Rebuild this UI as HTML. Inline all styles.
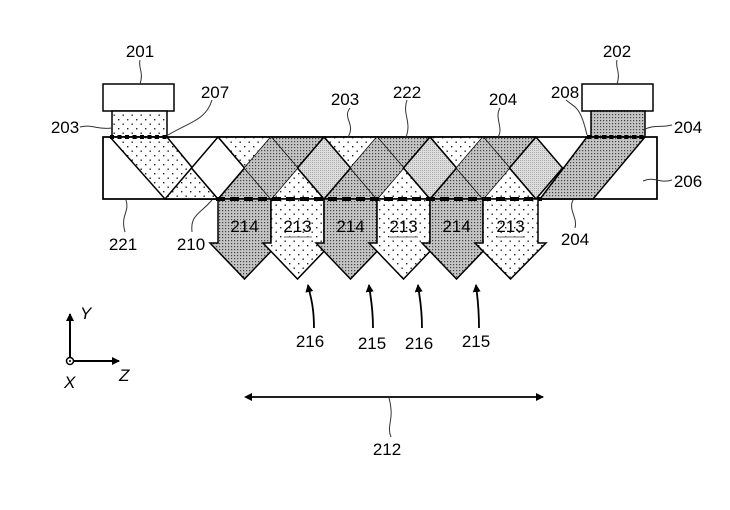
<!DOCTYPE html>
<html><head><meta charset="utf-8"><style>
html,body{margin:0;padding:0;background:#fff;}
svg{display:block;}
text{font-family:"Liberation Sans",sans-serif;font-size:17px;fill:#000;}
</style></head><body>
<svg width="730" height="510" viewBox="0 0 730 510" xmlns="http://www.w3.org/2000/svg">
<defs>
<pattern id="dk" width="3" height="3" patternUnits="userSpaceOnUse"><rect width="3" height="3" fill="#c4c4c4"/><rect x="0" y="0" width="1.2" height="1.2" fill="#444"/></pattern>
<pattern id="lt" width="9" height="9" patternUnits="userSpaceOnUse"><rect width="9" height="9" fill="#fff"/><rect x="1" y="2" width="1.4" height="1.4" fill="#222"/><rect x="5.5" y="6.5" width="1.4" height="1.4" fill="#222"/></pattern>
<pattern id="gr" width="2" height="2" patternUnits="userSpaceOnUse"><rect width="2" height="2" fill="#dedede"/><rect width="1" height="1" fill="#aaa"/></pattern>
<marker id="ah" markerWidth="8" markerHeight="8" refX="7" refY="4" orient="auto" markerUnits="userSpaceOnUse"><path d="M0,0 L8,4 L0,8z" fill="#000"/></marker>
<marker id="ahs" markerWidth="8" markerHeight="8" refX="6" refY="4" orient="auto-start-reverse" markerUnits="userSpaceOnUse"><path d="M0,0 L8,4 L0,8z" fill="#000"/></marker>
</defs>

<rect x="103" y="84" width="71" height="27" fill="#fff" stroke="#000" stroke-width="1.5"/>
<rect x="112" y="111" width="55" height="26" fill="url(#lt)" stroke="#000" stroke-width="1.5"/>
<rect x="582" y="84" width="71" height="27" fill="#fff" stroke="#000" stroke-width="1.5"/>
<rect x="591" y="111" width="54" height="26" fill="url(#dk)" stroke="#000" stroke-width="1.5"/>

<rect x="103" y="137" width="554" height="62" fill="#fff" stroke="#000" stroke-width="1.5"/>
<g stroke="#000" stroke-width="1.5" stroke-linejoin="round">
<polygon points="110,137 167,137 218,199 165,199" fill="url(#lt)"/>
<polygon points="218,137 271,137 244.5,168" fill="url(#lt)"/>
<polygon points="271,137 324,137 297.5,168" fill="url(#dk)"/>
<polygon points="324,137 377,137 350.5,168" fill="url(#lt)"/>
<polygon points="377,137 430,137 403.5,168" fill="url(#dk)"/>
<polygon points="430,137 483,137 456.5,168" fill="url(#lt)"/>
<polygon points="483,137 536,137 509.5,168" fill="url(#dk)"/>
<polygon points="165,199 218,199 191.5,168" fill="url(#lt)"/>
<polygon points="218,199 271,199 244.5,168" fill="url(#dk)"/>
<polygon points="271,199 324,199 297.5,168" fill="url(#lt)"/>
<polygon points="324,199 377,199 350.5,168" fill="url(#dk)"/>
<polygon points="377,199 430,199 403.5,168" fill="url(#lt)"/>
<polygon points="430,199 483,199 456.5,168" fill="url(#dk)"/>
<polygon points="483,199 536,199 509.5,168" fill="url(#lt)"/>
<polygon points="218,137 244.5,168 218,199 191.5,168" fill="#fff"/>
<polygon points="271,137 297.5,168 271,199 244.5,168" fill="url(#dk)" stroke="none"/>
<polygon points="324,137 350.5,168 324,199 297.5,168" fill="url(#gr)"/>
<polygon points="377,137 403.5,168 377,199 350.5,168" fill="url(#dk)" stroke="none"/>
<polygon points="430,137 456.5,168 430,199 403.5,168" fill="url(#gr)"/>
<polygon points="483,137 509.5,168 483,199 456.5,168" fill="url(#dk)" stroke="none"/>
<polygon points="536,137 562.5,168 536,199 509.5,168" fill="url(#gr)"/>
<polygon points="587,137 645,137 593,199 540,199" fill="url(#dk)"/>
</g>
<rect x="103" y="137" width="554" height="62" fill="none" stroke="#000" stroke-width="1.5"/>

<line x1="110" y1="137" x2="167" y2="137" stroke="#000" stroke-width="4" stroke-dasharray="4,3.5"/>
<line x1="587" y1="137" x2="645" y2="137" stroke="#000" stroke-width="4" stroke-dasharray="4,3.5"/>

<g stroke="#000" stroke-width="1.5" stroke-linejoin="miter">
<polygon points="218,199 271,199 271,243 279,243 244.5,279 210,243 218,243" fill="url(#dk)"/>
<polygon points="271,199 324,199 324,243 332,243 297.5,279 263,243 271,243" fill="url(#lt)"/>
<polygon points="324,199 377,199 377,243 385,243 350.5,279 316,243 324,243" fill="url(#dk)"/>
<polygon points="377,199 430,199 430,243 438,243 403.5,279 369,243 377,243" fill="url(#lt)"/>
<polygon points="430,199 483,199 483,243 491,243 456.5,279 422,243 430,243" fill="url(#dk)"/>
<polygon points="483,199 538,199 538,243 546,243 510.5,279 475,243 483,243" fill="url(#lt)"/>
</g>
<line x1="216" y1="199" x2="542" y2="199" stroke="#000" stroke-width="4" stroke-dasharray="9,5"/>

<g text-anchor="middle">
<text x="244.5" y="232">214</text>
<text x="297.5" y="232">213</text>
<text x="350.5" y="232">214</text>
<text x="403.5" y="232">213</text>
<text x="456.5" y="232">214</text>
<text x="510.5" y="232">213</text>
</g>
<g stroke="#888" stroke-width="1.2">
<line x1="284" y1="237" x2="312" y2="237"/><line x1="390" y1="237" x2="418" y2="237"/><line x1="497" y1="237" x2="525" y2="237"/>
</g>

<g fill="none" stroke="#333" stroke-width="1">
<path d="M140,60 C138,68 144,72 140,84"/>
<path d="M617,60 C615,68 621,72 617,84"/>
<path d="M80,127 C92,124 98,130 112,128"/>
<path d="M212,100 C206,120 190,122 168,135"/>
<path d="M350,108 C342,118 356,124 348,137"/>
<path d="M407,100 C402,114 412,122 406,137"/>
<path d="M500,108 C494,118 504,128 498,137"/>
<path d="M566,100 C575,108 580,105 587,135"/>
<path d="M643,130 C655,124 660,128 672,125"/>
<path d="M643,181 C655,176 660,184 672,180"/>
<path d="M125,232 C120,215 130,212 126,200"/>
<path d="M192,232 C190,215 200,214 212,200"/>
<path d="M575,228 C578,218 568,210 573,200"/>
<path d="M391,437 C386,425 395,420 389,398"/>
</g>

<g text-anchor="middle">
<text x="140" y="57">201</text>
<text x="617" y="57">202</text>
<text x="65" y="133">203</text>
<text x="688" y="133">204</text>
<text x="215" y="98">207</text>
<text x="345" y="105">203</text>
<text x="407" y="98">222</text>
<text x="503" y="105">204</text>
<text x="565" y="98">208</text>
<text x="688" y="187">206</text>
<text x="123" y="250">221</text>
<text x="191" y="250">210</text>
<text x="575" y="245">204</text>
<text x="310" y="347">216</text>
<text x="372" y="349">215</text>
<text x="419" y="349">216</text>
<text x="476" y="347">215</text>
<text x="387" y="455">212</text>
</g>

<g fill="none" stroke="#000" stroke-width="1.8">
<path d="M314,328 C314,305 310,295 308,285" marker-end="url(#ah)"/>
<path d="M373,328 C373,305 370,295 369,285" marker-end="url(#ah)"/>
<path d="M422,328 C422,305 419,295 418,285" marker-end="url(#ah)"/>
<path d="M479,328 C479,305 477,295 476,285" marker-end="url(#ah)"/>
</g>

<g stroke="#000" stroke-width="2" fill="none">
<line x1="70" y1="361" x2="70" y2="314" marker-end="url(#ah)"/>
<line x1="70" y1="361" x2="119" y2="361" marker-end="url(#ah)"/>
</g>
<circle cx="70" cy="361" r="3.5" fill="#fff" stroke="#000" stroke-width="1.5"/>
<circle cx="70" cy="361" r="1" fill="#000"/>
<text x="80" y="319" font-style="italic">Y</text>
<text x="119" y="381" font-style="italic">Z</text>
<text x="64" y="388" font-style="italic">X</text>

<line x1="246" y1="397" x2="543" y2="397" stroke="#000" stroke-width="1.8" marker-start="url(#ahs)" marker-end="url(#ah)"/>
</svg>
</body></html>
